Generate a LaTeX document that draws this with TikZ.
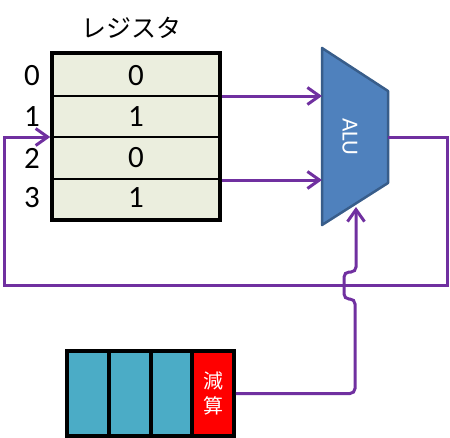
\documentclass[tikz,border=0pt]{standalone}
\usepackage{fontspec}
\setmainfont{Carlito}
\newfontfamily\jpfont{Noto Sans CJK JP}
\usetikzlibrary{arrows.meta}
\definecolor{buscol}{HTML}{7030A0}
\definecolor{regfill}{HTML}{EBEEDE}
\definecolor{alufill}{HTML}{4F81BD}
\definecolor{aluedge}{HTML}{385D8A}
\definecolor{cellblue}{HTML}{4BACC6}
\tikzset{
  bus/.style={draw=buscol,line width=3pt},
  feed/.style={bus,-{Straight Barb[length=12pt,width=17pt,line width=3pt]}},
  digit/.style={font=\fontsize{31}{34}\selectfont,inner sep=0pt},
  opcell/.style={draw,line width=4pt,fill=cellblue,minimum width=41.75pt,minimum height=85pt,inner sep=0pt}
}

\begin{document}
\begin{tikzpicture}[x=1pt,y=-1pt]
  \useasboundingbox (0,0) rectangle (450,437);
  % register file
  \node[font=\jpfont\fontsize{25}{28}\selectfont] (title) at (131,28) {レジスタ};
  \node[draw,line width=3.5pt,fill=regfill,minimum width=168pt,minimum height=167pt,inner sep=0pt] (reg) at (136,136.5) {};
  \draw[line width=1.8pt] (reg.west |- 0,96) -- (reg.east |- 0,96);
  \draw[line width=1.8pt] (reg.west |- 0,137) -- (reg.east |- 0,137);
  \draw[line width=1.8pt] (50,179) -- (218,179);
  \foreach \i/\v/\y in {0/0/76,1/1/117,2/0/158,3/1/198}{
    \node[digit] (idx\i) at (32,\y) {\i};
    \node[digit] (val\i) at (136,\y) {\v};
  }
  % ALU
  \coordinate (aluA) at (322,48);
  \coordinate (aluB) at (388,91);
  \coordinate (aluC) at (388,183);
  \coordinate (aluD) at (322,225);
  \filldraw[fill=alufill,draw=aluedge,line width=2.5pt,line join=round] (aluA) -- (aluB) -- (aluC) -- (aluD) -- cycle;
  \node[rotate=-90,white,font=\fontsize{23}{26}\selectfont] (alu) at (350,137) {ALU};
  \coordinate (in1) at (322,96);
  \coordinate (in2) at (322,180);
  \coordinate (in3) at (356,207);
  \draw[feed] (reg.east |- in1) -- (in1);
  \draw[feed] (reg.east |- in2) -- (in2);
  % result back into the register
  \draw[feed] (aluB |- alu) -- (447,137) -- (447,285) -- (4,285) -- (4,137) -- (reg.west |- alu);
  % opcode
  \foreach \i in {0,1,2}
    \node[opcell] (op\i) at (87.9+41.75*\i,393.5) {};
  \node[opcell,fill=red,text=white,font=\jpfont\fontsize{20}{25}\selectfont,align=center] (op3) at (213.1,393.5) {減\\算};
  \draw[feed,rounded corners=5pt] (op3.east) -- (355,393.5) -- (355,299) -- (344,299) -- (344,272) -- (356,272) -- (in3);
\end{tikzpicture}
\end{document}
